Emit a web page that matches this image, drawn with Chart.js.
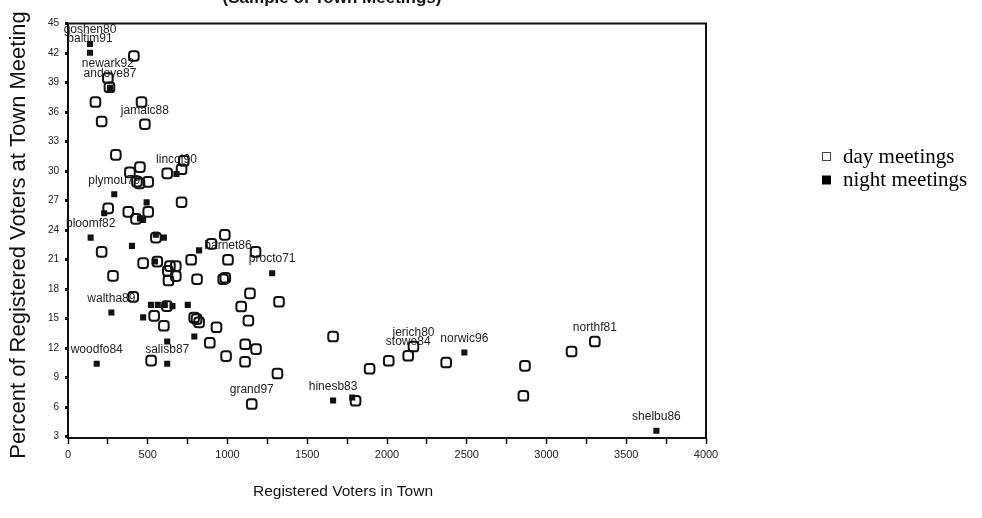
<!DOCTYPE html>
<html>
<head>
<meta charset="utf-8">
<script src="https://cdn.jsdelivr.net/npm/chart.js@4.4.1/dist/chart.umd.min.js"></script>
<style>
html, body { margin: 0; padding: 0; background: #fff; }
</style>
</head>
<body>
<canvas id="myChart" width="982" height="518"></canvas>
<script>
// registered voters (x) and percent at meeting (y)
const dayX = [413, 250, 260, 172, 461, 211, 482, 300, 726, 712, 622, 451, 388, 432, 448, 503, 712, 252, 378, 503,
    426, 551, 983, 900, 211, 1176, 1003, 772, 560, 471, 639, 676, 626, 676, 282, 630, 809, 973, 986, 1141,
    1323, 1086, 409, 620, 540, 601, 791, 806, 822, 931, 1131, 1662, 889, 1111, 1179, 991, 1110, 521, 1313, 1152,
    1803, 1891, 2011, 2133, 2166, 2371, 2865, 2855, 3157, 3303]
const dayY = [41.7, 39.46, 38.52, 37.02, 37.02, 35.04, 34.76, 31.64, 31.03, 30.18, 29.76, 30.39, 29.86, 28.92, 28.74, 28.89, 26.83, 26.2, 25.84, 25.84,
    25.13, 23.23, 23.51, 22.59, 21.78, 21.78, 20.97, 20.97, 20.79, 20.63, 20.33, 20.33, 19.85, 19.31, 19.34, 18.86, 19.0, 19.0, 19.14, 17.56,
    16.7, 16.22, 17.2, 16.26, 15.27, 14.26, 15.1, 14.94, 14.61, 14.11, 14.79, 13.17, 12.53, 12.38, 11.89, 11.18, 10.6, 10.72, 9.41, 6.31,
    6.64, 9.89, 10.7, 11.21, 12.15, 10.53, 10.19, 7.14, 11.65, 12.66]
const dayNames = [[1, 'newark92'], [6, 'jamaic88'], [26, 'barnet86'], [59, 'grand97'], [63, 'stowe84'], [64, 'jerich80'], [69, 'northf81']]

const nightX = [138, 138, 263, 680, 290, 493, 227, 451, 471, 142, 551, 601, 401, 822, 545, 1280, 272, 520, 563, 607,
    655, 751, 471, 792, 622, 622, 180, 1662, 1782, 2485, 3689]
const nightY = [42.92, 42.03, 38.45, 29.7, 27.64, 26.81, 25.71, 25.18, 25.03, 23.23, 23.51, 23.23, 22.39, 21.93, 20.79, 19.61, 15.61, 16.39, 16.39, 16.39,
    16.26, 16.39, 15.12, 13.17, 12.66, 10.4, 10.4, 6.67, 6.97, 11.55, 3.59]
const nightNames = [[0, 'goshen80'], [1, 'baltim91'], [2, 'andove87'], [3, 'lincol90'], [4, 'plymou79'], [9, 'bloomf82'], [15, 'procto71'],
    [16, 'waltha89'], [25, 'salisb87'], [26, 'woodfo84'], [27, 'hinesb83'], [29, 'norwic96'], [30, 'shelbu86']]

const seriesNames = ['day meetings', 'night meetings']
const xTicks = [0, 250, 500, 750, 1000, 1250, 1500, 1750, 2000, 2250, 2500, 2750, 3000, 3250, 3500, 3750, 4000]
const yTicks = [3, 6, 9, 12, 15, 18, 21, 24, 27, 30, 33, 36, 39, 42, 45]

const sans = '"Liberation Sans", Arial, sans-serif'
const serif = '"Liberation Serif", "Times New Roman", serif'

function toPoints(xs, ys) {
    let pts = []
    xs.forEach((x, i) => {
        pts.push({x: x, y: ys[i]})
    })
    return pts
}

const extras = {
    id: 'extras',
    beforeDatasetsDraw(chart) {
        // town labels sit above their point, points are drawn over them
        let ctx = chart.ctx
        ctx.save()
        ctx.font = '12px ' + sans
        ctx.fillStyle = '#222'
        ctx.textAlign = 'center'
        ctx.textBaseline = 'middle'
        ;[dayNames, nightNames].forEach((names, d) => {
            let meta = chart.getDatasetMeta(d)
            names.forEach(([i, name]) => {
                let pt = meta.data[i]
                ctx.fillText(name, pt.x, pt.y - 14)
            })
        })
        ctx.restore()
    },
    afterDraw(chart) {
        let ctx = chart.ctx
        let a = chart.chartArea
        ctx.save()
        // frame
        ctx.strokeStyle = '#111'
        ctx.lineWidth = 2
        ctx.strokeRect(a.left, a.top, a.right - a.left, a.bottom - a.top)

        // titles
        ctx.fillStyle = '#111'
        ctx.textAlign = 'center'
        ctx.font = 'bold 17px ' + sans
        ctx.textBaseline = 'alphabetic'
        ctx.fillText('(Sample of Town Meetings)', 332, 3)

        ctx.textBaseline = 'middle'
        ctx.font = '15.5px ' + sans
        ctx.fillText('Registered Voters in Town', 343, 492)

        ctx.save()
        ctx.translate(19, 235)
        ctx.rotate(-Math.PI / 2)
        ctx.font = '22px ' + sans
        ctx.fillText('Percent of Registered Voters at Town Meeting', 0, 0)
        ctx.restore()

        // legend
        ctx.lineWidth = 1
        ctx.strokeStyle = '#444'
        ctx.fillStyle = '#fff'
        ctx.fillRect(822, 152.5, 8, 8)
        ctx.strokeRect(822.5, 152.5, 8, 8)
        ctx.fillStyle = '#000'
        ctx.fillRect(822, 175.5, 9, 9)
        ctx.font = '21px ' + serif
        ctx.textAlign = 'left'
        ctx.fillText(seriesNames[0], 843, 157)
        ctx.fillText(seriesNames[1], 843, 180)
        ctx.restore()
    }
}

new Chart(document.getElementById('myChart'), {
    type: 'scatter',
    data: {
        datasets: [{
            label: seriesNames[0],
            data: toPoints(dayX, dayY),
            pointStyle: 'rectRounded',
            pointRadius: 5.6,
            borderWidth: 2,
            borderColor: '#111',
            backgroundColor: 'rgba(255,255,255,0)'
        }, {
            label: seriesNames[1],
            data: toPoints(nightX, nightY),
            pointStyle: 'rect',
            pointRadius: 4.3,
            borderWidth: 0,
            borderColor: '#111',
            backgroundColor: '#111'
        }]
    },
    options: {
        responsive: false,
        animation: false,
        devicePixelRatio: 1,
        layout: {padding: {top: 23.5, right: 276, left: 0, bottom: 0}},
        plugins: {
            legend: {display: false},
            tooltip: {enabled: false}
        },
        scales: {
            x: {
                type: 'linear',
                min: 0,
                max: 4000,
                afterBuildTicks: s => { s.ticks = xTicks.map(v => ({value: v})) },
                afterFit: s => { s.height = 80 },
                grid: {drawOnChartArea: false, tickLength: 6, tickWidth: 1.5, tickColor: '#111'},
                border: {display: false},
                ticks: {
                    callback: v => v % 500 === 0 ? String(v) : '',
                    font: {size: 11, family: sans},
                    color: '#222',
                    padding: 4,
                    maxRotation: 0,
                    autoSkip: false
                }
            },
            y: {
                min: 2.85,
                max: 45,
                afterBuildTicks: s => { s.ticks = yTicks.map(v => ({value: v})) },
                afterFit: s => { s.width = 68 },
                grid: {drawOnChartArea: false, tickLength: 3, tickWidth: 3, tickColor: '#111'},
                border: {display: false},
                ticks: {
                    font: {size: 10, family: sans},
                    color: '#222',
                    padding: 6
                }
            }
        }
    },
    plugins: [extras]
})
</script>
</body>
</html>
